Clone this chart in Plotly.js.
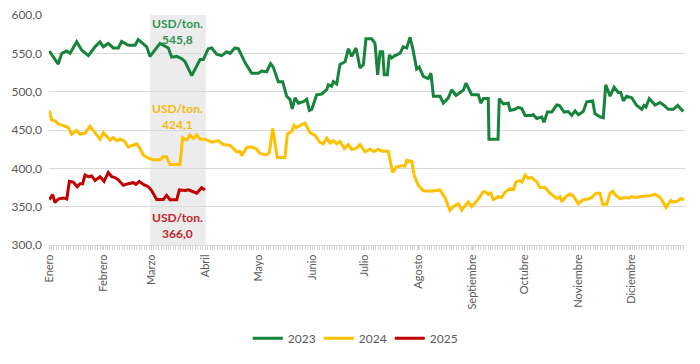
<!DOCTYPE html>
<html>
<head>
<meta charset="utf-8">
<script src="https://cdn.plot.ly/plotly-3.0.1.min.js"></script>
<style>html,body{margin:0;padding:0;background:#fff;}#chart{width:700px;height:364px;}</style>
</head>
<body>
<div id="chart"></div>
<script>
// Day of year (0 = 1 Jan) and price in USD/ton
const days2023 = [0.2,5.3,7.3,10.2,12.1,15.9,18.8,22.6,26.4,29.3,31.2,34.0,36.9,39.8,41.7,45.5,49.4,51.2,56.1,58.0,63.7,68.5,70.4,73.3,76.2,78.1,81.9,86.7,88.6,91.4,93.4,96.2,99.1,102.0,103.9,106.7,108.7,112.5,116.3,120.1,122.1,124.9,127.2,128.7,131.6,134.1,136.4,138.3,139.6,141.2,143.1,146.0,147.9,149.4,150.8,153.6,156.5,159.4,160.3,162.2,163.2,165.1,167.0,169.9,171.8,173.7,176.2,178.5,180.4,181.9,185.2,187.1,188.6,190.0,191.5,192.4,194.2,195.3,196.7,198.6,201.4,203.3,205.3,207.2,208.7,211.0,212.5,214.8,217.7,219.2,220.6,224.4,226.3,229.2,231.1,233.6,237.8,239.3,242.6,246.4,247.8,249.3,252.1,252.5,257.7,258.4,260.7,263.6,264.6,267.4,269.3,271.3,273.2,277.0,277.9,279.9,282.8,284.1,286.0,288.5,291.4,292.9,295.6,298.0,300.0,301.9,303.8,306.6,308.6,312.0,313.3,316.2,318.1,319.5,322.0,324.3,326.7,328.1,329.6,331.5,334.4,337.3,340.2,341.5,342.6,344.5,347.8,350.7,353.0,355.4,358.3,360.8,364.0];
const vals2023 = [553,536,550,553,550,565,554,547,558.5,565,558.5,563,557,557,565.5,560.5,560.5,568,558.5,546,563,557,545,546,543,539,521,542,542,556,557,549,547,552,550,557,556,538,524,524,527,526,536.5,532,513,513,494,490,477.6,492,485,487,490,475.5,477,496,497,502.5,509,507,513,510,535.6,539,556,546,557,531,535,569,569,563,522,552,552,522,522,548,544,547,550,558.5,557,571,557,529.5,532,520,517,524,494,494,485,492,502.5,495,502,511,496,496,485,491,491,438,438,491,484,485,475.5,477,479.6,478,469,469,470,465,467,460,473.4,473.4,482.6,482,473.4,474,469,475,470,474,486.7,488,471.4,467.2,466,509,494,506,499,499,488,494,492,482,477,482,480,491,482.6,486,482,477,477,482,474];

const days2024 = [0.2,1.5,3.4,5.3,9.2,11.1,13.0,15.9,17.8,20.7,23.5,26.4,29.3,31.2,33.1,35.0,36.9,38.9,40.7,43.0,45.5,48.4,50.3,52.2,54.1,57.0,59.9,63.7,65.6,67.5,69.4,75.2,76.7,79.0,80.9,82.8,84.8,86.7,89.5,93.4,97.2,100.0,103.9,105.8,107.7,109.6,110.6,113.4,116.3,119.2,121.1,124.9,126.4,128.4,131.0,135.4,136.8,139.3,140.6,141.8,143.1,145.0,146.9,149.8,152.7,155.5,157.4,159.4,161.3,163.2,165.1,167.0,169.5,171.8,173.7,176.2,178.5,181.4,184.2,186.5,189.0,190.9,194.7,197.2,199.5,202.4,204.3,205.3,208.2,209.6,211.9,214.8,219.6,224.4,227.3,230.1,232.0,234.9,236.8,240.6,242.6,245.4,249.3,250.8,252.1,253.5,255.0,257.9,259.8,261.7,264.6,266.5,268.0,270.3,271.5,273.2,275.1,277.0,279.9,281.8,284.7,287.5,291.4,293.3,294.2,297.1,299.0,300.9,303.8,306.6,309.5,311.4,313.9,316.2,317.7,320.1,322.0,323.5,324.8,327.7,330.6,332.5,334.4,336.3,339.2,342.0,344.9,347.8,350.7,352.2,354.1,356.8,358.3,360.6,362.5,364.4];
const vals2024 = [475.5,463,462,458,455,453,444.4,449.4,444.4,446,455,446.5,438,446.5,442,437,440,436,438,436,428,431,432,426,417.4,413.3,411.2,411.2,415.4,415,405,405,440,437,443.6,439,443.6,438,438,434,436,431,430,426,421.6,422,416.6,427,428,425,419.5,417.4,420,452,414,414,445,448,456,453,455,457,459,446.5,443,434,432,439.4,433,436,432,435,425.7,431,424.5,426,431,421.6,425,422,425,422.4,422.4,394.6,402,403.5,403,410.4,409,390.5,378,370.6,370,371.8,361.4,345,350,354,345.7,356.3,350,357,369.7,369,366,368,359.3,363,362,368.9,373.8,372,382.2,384,382,391.3,387,388,382.2,375,375,367.6,360.6,363,356.3,364,366.4,364,353.9,359,360,362,367.6,367.6,353.1,353.1,367.6,370,366,360.6,362,361,363,362,363,364,364,366.4,362,357,348.9,358,356,357,360.6,358.9];

const days2025 = [0.2,2.1,3.4,5.3,8.2,10.2,11.7,13.9,16.2,17.8,19.3,20.7,22.6,24.5,26.4,29.3,31.6,34.0,36.0,37.9,39.8,42.6,45.5,48.4,49.9,51.8,54.1,57.0,58.9,61.8,65.6,67.5,69.4,73.3,74.8,78.1,80.0,81.9,84.8,87.6,89.5];
const vals2025 = [359.3,365.6,355.3,360,361.4,360,383,382,376,380,380,391.3,389,390,384.3,389,383,394.6,389,388,385,378,380,381.3,379,383,379,376,371,359.3,359.3,364.7,359,359,371.8,371,372,370,367.6,374.7,371.8];

const monthDays = [0,31,59,90,120,151,181,212,243,273,304,334];
const monthLabels = ["Enero","Febrero","Marzo","Abril","Mayo","Junio","Julio","Agosto","Septiembre","Octubre","Noviembre","Diciembre"];

const seriesNames = ["2023","2024","2025"];
const seriesColors = ["#17843b","#FFC000","#C00000"];
const labelColors = ["#2e9552","#f5b90a","#c4232b"];
const labelTexts = ["USD/ton.<br>545,8","USD/ton.<br>424,1","USD/ton.<br>366,0"];
const labelY = [579,467,326];
const labelX = 74;
const shadeStart = 58, shadeEnd = 90;

const font = "Lato, 'Open Sans', sans-serif";
const xs = [days2023, days2024, days2025];
const ys = [vals2023, vals2024, vals2025];
const traces = seriesNames.map((n,i)=>({
  type:'scatter', mode:'lines', name:n, x:xs[i], y:ys[i],
  line:{color:seriesColors[i], width:3, shape:'linear'}
}));

const layout = {
  width:700, height:364,
  margin:{l:49, r:15, t:15, b:108},
  paper_bgcolor:'#fff', plot_bgcolor:'#fff',
  separators:',.',
  font:{family:font, color:'#595959', size:11},
  showlegend:true,
  legend:{orientation:'h', x:0.48, xanchor:'center', y:-0.405, yanchor:'middle',
    font:{size:12, color:'#595959'}, entrywidth:26, entrywidthmode:'pixels', tracegroupgap:0},
  xaxis:{range:[0,365], tickmode:'array', tickvals:monthDays, ticktext:monthLabels,
    tickangle:-90, showgrid:false, zeroline:false, showline:true, linecolor:'#d9d9d9', linewidth:1,
    ticks:'outside', ticklen:4, tickcolor:'#d0d0d0',
    minor:{ticks:'outside', ticklen:4, tickcolor:'#d6d6d6', dtick:1.4, tick0:0, showgrid:false},
    tickfont:{size:11, color:'#595959'}},
  yaxis:{range:[300,600], dtick:50, tick0:300, tickformat:'.1f', showgrid:true, gridcolor:'#d9d9d9',
    gridwidth:1, zeroline:false, showline:false, ticklabelstandoff:6,
    tickfont:{size:12, color:'#595959'}},
  shapes:[{type:'rect', xref:'x', yref:'paper', x0:shadeStart, x1:shadeEnd, y0:0, y1:1,
    fillcolor:'#ececec', line:{width:0}, layer:'below'}],
  annotations: labelTexts.map((t,i)=>({x:labelX, y:labelY[i], xref:'x', yref:'y', text:'<b>'+t+'</b>',
    showarrow:false, align:'center', font:{size:12, color:labelColors[i], family:font}}))
};

Plotly.newPlot('chart', traces, layout, {displayModeBar:false, staticPlot:true});
</script>
</body>
</html>
